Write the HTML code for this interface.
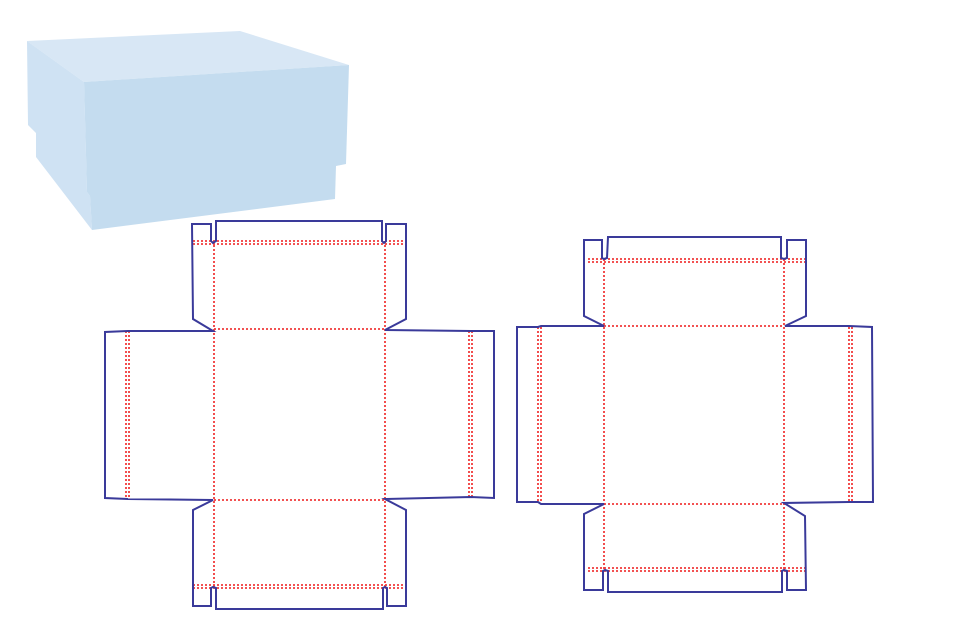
<!DOCTYPE html>
<html><head><style>html,body{margin:0;padding:0;background:#fff;width:960px;height:640px;overflow:hidden}</style></head>
<body>
<svg width="960" height="640" viewBox="0 0 960 640" xmlns="http://www.w3.org/2000/svg">
<polygon points="27,41 240,31 349,65 84,82" fill="#d8e7f5"/>
<polygon points="27,41 84,82 87,192 90,196 92,230 36,157 36,133 28,125" fill="#cfe2f3"/>
<polygon points="84,82 349,65 346,164 336,166 335,199 92,230 90,196 87,192" fill="#c4dcef"/>

<g fill="none" stroke="#f03a3a" stroke-width="1.8" stroke-dasharray="2,2">
<line x1="193" y1="241" x2="406" y2="241"/><line x1="193" y1="244" x2="406" y2="244"/>
<line x1="193" y1="585" x2="406" y2="585"/><line x1="193" y1="588" x2="406" y2="588"/>
<line x1="214" y1="241" x2="214" y2="588"/><line x1="385" y1="241" x2="385" y2="588"/>
<line x1="214" y1="329" x2="385" y2="329"/><line x1="214" y1="500" x2="385" y2="500"/>
<line x1="126" y1="331" x2="126" y2="499"/><line x1="129" y1="331" x2="129" y2="499"/>
<line x1="469" y1="331" x2="469" y2="498"/><line x1="472" y1="331" x2="472" y2="498"/>
<line x1="588" y1="259" x2="806" y2="259"/><line x1="588" y1="262" x2="806" y2="262"/>
<line x1="588" y1="568" x2="806" y2="568"/><line x1="588" y1="571" x2="806" y2="571"/>
<line x1="604" y1="259" x2="604" y2="571"/><line x1="784" y1="259" x2="784" y2="571"/>
<line x1="604" y1="326" x2="784" y2="326"/><line x1="604" y1="504" x2="784" y2="504"/>
<line x1="538" y1="327" x2="538" y2="503"/><line x1="541" y1="327" x2="541" y2="503"/>
<line x1="849" y1="327" x2="849" y2="502"/><line x1="852" y1="327" x2="852" y2="502"/>
</g>

<g fill="none" stroke="#3a3a9a" stroke-width="2" stroke-linejoin="miter">
<path d="M213,331 L193,319 L192,224 L211,224 L211,241 L213,243 L216,241 L216,221 L382,221 L382,241 L384,243 L386,241 L386,224 L406,224 L406,319 L385,330 L471,331 L494,331 L494,498 L471,497 L385,499 L406,510 L406,606 L387,606 L387,588 L385,587 L383,588 L383,609 L216,609 L216,588 L213,587 L211,588 L211,606 L193,606 L193,510 L213,500 L128,499 L105,498 L105,332 L128,331 Z"/>
<path d="M604,326 L584,316 L584,240 L602,240 L602,258 L604,259 L607,258 L608,237 L781,237 L781,258 L784,259 L787,258 L787,240 L806,240 L806,316 L785,326 L849,326 L872,327 L873,502 L849,502 L784,503 L805,516 L806,590 L787,590 L787,571 L784,570 L782,571 L782,592 L608,592 L608,571 L605,570 L603,571 L603,590 L584,590 L584,514 L604,504 L541,504 L538,502 L517,502 L517,327 L538,327 L541,326 Z"/>
</g>
</svg>
</body></html>
